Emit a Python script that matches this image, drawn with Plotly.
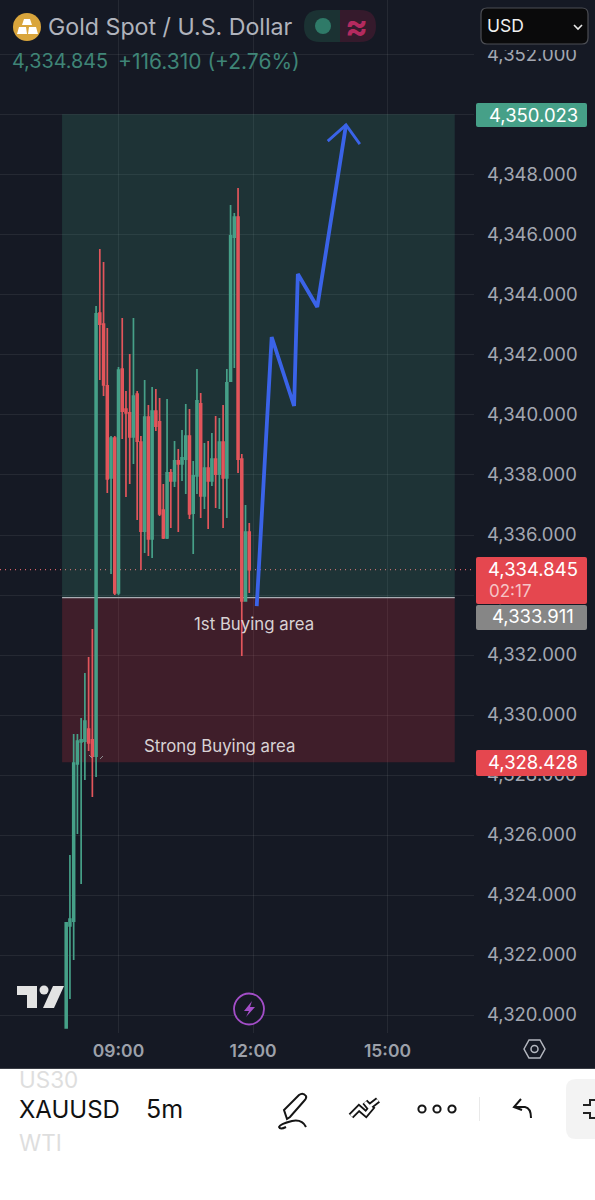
import pandas as pd
import plotly.graph_objects as go

DAY = "2025-12-16"
times = pd.date_range(f"{DAY} 07:50", periods=50, freq="5min")
opens = [4319.57,4322.97,4323.13,4328.37,4329.10,4329.13,4329.53,4329.17,4328.63,4343.40,
         4343.03,4340.97,4337.90,4339.23,4334.07,4341.53,4340.20,4340.07,4339.27,4340.70,
         4339.10,4336.13,4339.93,4335.87,4340.13,4339.77,4336.83,4335.90,4338.07,4337.80,
         4338.47,4338.37,4338.53,4339.30,4336.73,4337.97,4340.37,4337.30,4338.23,4337.80,
         4338.53,4338.03,4339.10,4337.90,4341.13,4345.93,4346.60,4338.53,4333.80,4336.10]
highs = [4323.07,4325.33,4329.37,4329.37,4329.90,4331.40,4331.93,4332.87,4343.63,4345.53,
         4345.10,4342.90,4339.30,4339.30,4341.60,4343.23,4340.80,4342.03,4343.23,4340.80,
         4339.30,4341.17,4340.33,4340.93,4340.87,4340.57,4337.70,4340.53,4338.20,4339.13,
         4338.87,4339.50,4340.37,4340.20,4338.47,4341.53,4340.73,4339.07,4339.13,4339.40,
         4339.97,4339.90,4340.33,4341.53,4347.00,4346.73,4347.57,4338.70,4337.00,4336.40]
lows = [4319.57,4320.53,4321.83,4326.03,4324.37,4327.83,4328.80,4327.27,4327.93,4341.17,
        4340.63,4337.40,4334.70,4334.00,4334.00,4339.20,4337.27,4337.70,4338.37,4336.50,
        4334.83,4335.40,4335.30,4335.23,4339.47,4336.63,4335.87,4335.87,4336.23,4337.60,
        4336.10,4337.80,4337.37,4336.53,4335.37,4337.37,4336.57,4336.87,4336.20,4337.63,
        4336.90,4336.87,4336.23,4336.57,4341.13,4341.57,4338.07,4331.97,4333.80,4334.07]
closes = [4323.07,4323.20,4328.40,4329.13,4329.17,4329.80,4329.07,4328.63,4343.37,4343.03,
          4341.00,4337.87,4339.23,4334.07,4341.50,4340.13,4340.07,4339.27,4340.63,4339.13,
          4336.13,4339.93,4335.87,4340.13,4339.63,4336.70,4335.90,4338.07,4337.80,4338.47,
          4338.37,4338.57,4339.30,4336.70,4337.97,4340.47,4337.30,4338.23,4337.80,4338.53,
          4338.03,4339.10,4337.90,4341.07,4345.97,4346.60,4338.53,4333.80,4336.10,4334.845]

arrow_times = ["12:05","12:25","12:55","13:00","13:26","14:04:30"]
arrow_prices = [4333.63,4342.60,4340.30,4344.70,4343.60,4349.67]
head_times = ["13:40","14:04:30","14:23"]
head_prices = [4349.13,4349.67,4349.03]

zone_start, zone_end = "07:44:30", "16:30"
target_price, entry_price, stop_price, last_price = 4350.023, 4333.911, 4328.428, 4334.845
price_ticks = [4320 + 2 * i for i in range(17)]
time_ticks = ["09:00", "12:00", "15:00"]
tag_labels = ["4,350.023", "4,334.845", "02:17", "4,333.911", "4,328.428"]

BG = "#151924"
AXT = "#a3a7b1"
GREEN = "#46a088"
RED = "#e2555b"
FONT = "Inter"
PW, PH = 474.0, 1033.0


def T(s):
    return f"{DAY} {s}"


def X(p):
    return p / PW


def Y(p):
    return 1 - p / PH


def path(cmds):
    s = ""
    for c in cmds:
        s += c if isinstance(c, str) else f"{X(c[0]):.5f},{Y(c[1]):.5f} "
    return s


def rrect(x0, y0, x1, y1, r):
    return path(["M", (x0 + r, y0), "L", (x1 - r, y0), "Q", (x1, y0), (x1, y0 + r), "L", (x1, y1 - r),
                 "Q", (x1, y1), (x1 - r, y1), "L", (x0 + r, y1), "Q", (x0, y1), (x0, y1 - r),
                 "L", (x0, y0 + r), "Q", (x0, y0), (x0 + r, y0), "Z"])


shapes = []
annos = []


def pshape(d, fill="rgba(0,0,0,0)", line=None, width=0, layer="above"):
    shapes.append(dict(type="path", path=d, xref="paper", yref="paper", fillcolor=fill, layer=layer,
                       line=dict(color=line or "rgba(0,0,0,0)", width=width)))


def circle(cx, cy, rx, ry, fill="rgba(0,0,0,0)", line=None, width=0, layer="above"):
    shapes.append(dict(type="circle", xref="paper", yref="paper", x0=X(cx - rx), x1=X(cx + rx), y0=Y(cy + ry),
                       y1=Y(cy - ry), fillcolor=fill, layer=layer,
                       line=dict(color=line or "rgba(0,0,0,0)", width=width)))


def rect(x0, y0, x1, y1, fill, layer="above"):
    shapes.append(dict(type="rect", xref="paper", yref="paper", x0=X(x0), x1=X(x1), y0=Y(y1), y1=Y(y0),
                       fillcolor=fill, layer=layer, line=dict(width=0)))


def text(x, y, s, size, color, anchor="left", weight=None, height=None):
    annos.append(dict(x=X(x), y=Y(y), xref="paper", yref="paper", text=s, showarrow=False, xanchor=anchor,
                      yanchor="middle", xshift=-2 if anchor == "left" else 0, height=height,
                      font=dict(family=FONT, size=size, color=color, weight=weight)))


# trade zones in data space
shapes.append(dict(type="rect", xref="x", yref="y", x0=T(zone_start), x1=T(zone_end), y0=entry_price, y1=target_price,
                   fillcolor="rgba(76,175,140,0.175)", line=dict(width=0), layer="between"))
shapes.append(dict(type="rect", xref="x", yref="y", x0=T(zone_start), x1=T(zone_end), y0=stop_price, y1=entry_price,
                   fillcolor="rgba(242,54,69,0.19)", line=dict(width=0), layer="between"))
shapes.append(dict(type="line", xref="x", yref="y", x0=T(zone_start), x1=T(zone_end), y0=entry_price, y1=entry_price,
                   line=dict(color="#a9adb3", width=1.4), layer="between"))
shapes.append(dict(type="line", xref="paper", yref="y", x0=0, x1=1, y0=last_price, y1=last_price,
                   line=dict(color="#d9646a", width=1.2, dash="1px,4px"), layer="between"))

fig = go.Figure()
fig.add_trace(go.Candlestick(
    x=times, open=opens, high=highs, low=lows, close=closes, whiskerwidth=0,
    increasing=dict(line=dict(color=GREEN, width=1.7), fillcolor=GREEN),
    decreasing=dict(line=dict(color=RED, width=1.7), fillcolor=RED),
    showlegend=False, hoverinfo="skip"))
fig.add_trace(go.Scatter(x=[T(t) for t in arrow_times], y=arrow_prices, mode="lines",
                         line=dict(color="#3a63e8", width=3.8), showlegend=False, hoverinfo="skip"))
fig.add_trace(go.Scatter(x=[T(t) for t in head_times], y=head_prices, mode="lines",
                         line=dict(color="#3a63e8", width=2.8), showlegend=False, hoverinfo="skip"))

# cover behind the top-right axis label
rect(476, 0, 595, 50, BG)
# price tags
pshape(rrect(476, 103, 587, 127, 2), GREEN)
pshape(rrect(476, 557, 587, 604, 2), "#e5474f")
pshape(rrect(476, 605, 587, 630, 2), "#868686")
pshape(rrect(476, 750, 587, 776, 2), "#e5474f")
text(533, 114.5, tag_labels[0], 18.5, "#ffffff", "center")
text(533, 569, tag_labels[1], 18.5, "#ffffff", "center", height=20)
text(510, 590.5, tag_labels[2], 17, "#f6c4c6", "center", height=18)
text(533, 616, tag_labels[3], 18.5, "#ffffff", "center")
text(533, 762, tag_labels[4], 18.5, "#ffffff", "center")

# zone labels
text(254, 624, "1st Buying area", 16.8, "#d8d2d4", "center")
text(219, 746, "Strong Buying area", 16.8, "#d8d2d4", "center")

# small ghost marks
pshape(path(["M", (89, 755), "L", (92, 758)]), line="#8d8d90", width=1)
pshape(path(["M", (100, 759), "L", (103, 756)]), line="#8d8d90", width=1)

# header
circle(27, 27, 14, 14, "#d9a53c")
pshape(path(["M", (24, 19), "L", (30, 19), "L", (32, 25), "L", (22, 25), "Z"]), "#ffffff")
pshape(path(["M", (17, 34), "L", (19, 27), "L", (26, 27), "L", (27, 34), "Z"]), "#ffffff")
pshape(path(["M", (28, 34), "L", (29, 27), "L", (36, 27), "L", (38, 34), "Z"]), "#ffffff")
text(48, 27, "Gold Spot / U.S. Dollar", 23.2, "#b0b3bc")
text(12, 61, "4,334.845", 19.8, "#3f8577")
text(118, 61, "+116.310 (+2.76%)", 21, "#3f8577")
pshape(path(["M", (340, 10), "L", (320, 10), "Q", (304, 10), (304, 26), "Q", (304, 42), (320, 42), "L", (340, 42), "Z"]), "#1b3233")
pshape(path(["M", (340, 10), "L", (360, 10), "Q", (376, 10), (376, 26), "Q", (376, 42), (360, 42), "L", (340, 42), "Z"]), "#351a2c")
circle(323, 26, 8, 8, "#2f7a68")
text(356, 26, "≈", 34, "#b42a5f", "center", 700)
pshape(rrect(481, 8, 588, 44, 6), "#0a0a0b", "#4c4e54", 1.2)
text(487, 26, "USD", 17.5, "#f0f0f0")
pshape(path(["M", (574, 25), "L", (578, 29), "L", (582, 25)]), line="#e8e8e8", width=1.6)

# TradingView logo
pshape(path(["M", (17, 986), "L", (37, 986), "L", (37, 1008), "L", (27, 1008), "L", (27, 995), "L", (17, 995), "Z"]), "#e3e3e3")
circle(44, 990, 4.5, 4.5, "#e3e3e3")
pshape(path(["M", (53, 986), "L", (64, 986), "L", (54, 1008), "L", (43, 1008), "Z"]), "#e3e3e3")

# lightning badge
circle(249, 1009, 15, 15.5, BG, "#a34ec8", 1.8)
pshape(path(["M", (252, 1001), "L", (244, 1011), "L", (249, 1011), "L", (246, 1017), "L", (255, 1007), "L", (250, 1007), "Z"]), "#a34ec8")

# settings hexagon
pshape(path(["M", (524, 1049), "L", (529, 1040), "L", (540, 1040), "L", (545, 1049), "L", (540, 1058), "L", (529, 1058), "Z"]), line="#b4b7bf", width=1.5)
circle(534.5, 1049, 3.5, 3.5, line="#b4b7bf", width=1.5)

# bottom white toolbar
rect(0, 1068, 595, 1200, "#ffffff")
rect(0, 1068, 595, 1069, "#3a3d45")
text(19, 1079, "US30", 22.5, "#dedede")
text(19, 1142, "WTI", 22.5, "#dedede")
text(19, 1109, "XAUUSD", 24, "#111111")
for i, a in enumerate([0.25, 0.5, 0.75, 1.0]):
    rect(106 + i * 4, 1094, 110 + i * 4, 1124, f"rgba(255,255,255,{a})")
rect(122, 1094, 128, 1124, "#ffffff")
text(146, 1109, "5m", 25, "#111111")
# pen
pshape(path(["M", (287, 1119), "L", (284, 1110), "L", (299, 1095), "Q", (303, 1092), (306, 1096), "Q", (307, 1098), (304, 1101), "L", (290, 1117), "Z"]), line="#151515", width=2)
pshape(path(["M", (306, 1127), "Q", (302, 1119), (292, 1121), "Q", (280, 1124), (279, 1127), "Q", (280, 1130), (286, 1127)]), line="#151515", width=2)
# lines icon: a dark band with a white core reads as an outlined zigzag
zig = path(["M", (351, 1116), "L", (359, 1108), "L", (366, 1114), "L", (371, 1108), "L", (365, 1102), "L", (369, 1107), "L", (378, 1100)])
pshape(zig, line="#151515", width=6.5)
pshape(zig, line="#ffffff", width=2.8)
for cx in [422, 437, 452]:
    circle(cx, 1109, 3.6, 3.6, line="#151515", width=2)
rect(479, 1097, 480, 1121, "#e9e9e9")
pshape(path(["M", (522, 1110), "L", (514, 1107), "L", (521, 1099)]), line="#151515", width=2)
pshape(path(["M", (514, 1107), "L", (525, 1107), "Q", (531, 1108), (531, 1118)]), line="#151515", width=2)
pshape(rrect(566, 1079, 620, 1139, 10), "#f3f3f3")
pshape(path(["M", (595, 1100), "L", (590, 1100), "L", (590, 1105), "L", (583, 1105)]), line="#222222", width=2)
pshape(path(["M", (595, 1118), "L", (590, 1118), "L", (590, 1113), "L", (583, 1113)]), line="#222222", width=2)

fig.update_layout(
    width=595, height=1200, margin=dict(l=0, r=121, t=0, b=167, pad=0),
    paper_bgcolor=BG, plot_bgcolor=BG, showlegend=False, shapes=shapes, annotations=annos, dragmode=False,
    font=dict(family=FONT),
    xaxis=dict(type="date", range=[T("06:21:24"), T("16:55:47")], tickvals=[T(t) for t in time_ticks],
               ticktext=time_ticks, showgrid=True, gridcolor="rgba(255,255,255,0.07)", gridwidth=1,
               rangeslider=dict(visible=False), zeroline=False, showline=False, ticks="",
               tickfont=dict(family=FONT, size=17.5, color="#9da1aa", weight=600), ticklabelstandoff=5),
    yaxis=dict(side="right", range=[4319.4, 4353.833], tickvals=price_ticks, tickformat=",.3f",
               showgrid=True, gridcolor="rgba(255,255,255,0.07)", gridwidth=1, zeroline=False, showline=False,
               ticks="", tickfont=dict(family=FONT, size=18.5, color=AXT), ticklabelstandoff=12),
)
fig.write_html("out.html", config=dict(displayModeBar=False, staticPlot=True),
               post_script="document.body.style.margin='0';document.body.style.background='#fff';")
